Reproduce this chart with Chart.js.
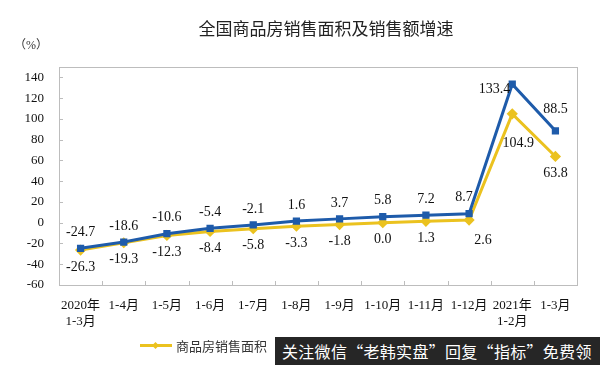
<!DOCTYPE html>
<html>
<head>
<meta charset="utf-8">
<script src="https://cdn.jsdelivr.net/npm/chart.js@4"></script>
<style>
  body { margin: 0; background: #fff; }
  #wrap { position: relative; width: 600px; height: 365px; overflow: hidden; background: #fff; }
  #c { position: absolute; left: 0; top: 0; }
  .title { position: absolute; left: 0; width: 652px; top: 15px; text-align: center;
           font: 17px "Noto Sans CJK SC", sans-serif; color: #222; }
  .unit { position: absolute; left: 14px; top: 35px; font: 12px "Liberation Serif", "Noto Sans CJK SC", serif; color: #333; }
  .legend { position: absolute; top: 336px; font: 13px "Noto Sans CJK SC", serif; color: #333; display: flex; align-items: center; }
  .legend .mk { position: relative; width: 32px; height: 3px; margin-right: 4px; }
  .legend .mk i { position: absolute; left: 13px; top: -1.5px; width: 5px; height: 5px; transform: rotate(45deg); }
  .wm { position: absolute; left: 275px; top: 337px; width: 325px; height: 28px; background: #262626;
        color: #fff; font: 16px "Noto Sans CJK SC", sans-serif; line-height: 28px; padding-left: 7px; letter-spacing: 0.3px; box-sizing: border-box; white-space: nowrap; }
</style>
</head>
<body>
<div id="wrap">
  <canvas id="c" width="600" height="365"></canvas>
  <div class="title">全国商品房销售面积及销售额增速</div>
  <div class="unit">（%）</div>
  <div class="legend" style="left:140px"><span class="mk" style="background:#EBC21F"><i style="background:#EBC21F"></i></span>商品房销售面积</div>
  <div class="legend" style="left:300px"><span class="mk" style="background:#1E5BAA"><i style="background:#1E5BAA"></i></span>商品房销售额</div>
  <div class="wm">关注微信“老韩实盘”回复“指标”免费领</div>
</div>
<script>
const categories = [['2020年', '1-3月'], '1-4月', '1-5月', '1-6月', '1-7月', '1-8月', '1-9月', '1-10月', '1-11月', '1-12月', ['2021年', '1-2月'], '1-3月'];
const salesAmount = [-24.7, -18.6, -10.6, -5.4, -2.1, 1.6, 3.7, 5.8, 7.2, 8.7, 133.4, 88.5];
const salesArea = [-26.3, -19.3, -12.3, -8.4, -5.8, -3.3, -1.8, 0.0, 1.3, 2.6, 104.9, 63.8];
const yTicks = [-60, -40, -20, 0, 20, 40, 60, 80, 100, 120, 140];

const BLUE = '#1E5BAA';
const YELLOW = '#EBC21F';

// frame + inner tick marks
const framePlugin = {
  id: 'frame',
  beforeDatasetsDraw(chart) {
    const { ctx, chartArea: a, scales } = chart;
    ctx.save();
    ctx.strokeStyle = '#bdbdbd';
    ctx.lineWidth = 1;
    ctx.strokeRect(Math.round(a.left) + 0.5, Math.round(a.top) + 0.5, Math.round(a.right - a.left), Math.round(a.bottom - a.top));
    ctx.beginPath();
    const step = (a.right - a.left) / categories.length;
    for (let i = 1; i < categories.length; i++) {
      const x = Math.round(a.left + step * i) + 0.5;
      ctx.moveTo(x, a.bottom);
      ctx.lineTo(x, a.bottom - 4);
    }
    yTicks.forEach(v => {
      const y = Math.round(scales.y.getPixelForValue(v)) + 0.5;
      ctx.moveTo(a.left, y);
      ctx.lineTo(a.left + 4, y);
    });
    ctx.stroke();
    ctx.restore();
  }
};

// data labels
const labelPlugin = {
  id: 'vals',
  afterDatasetsDraw(chart) {
    const { ctx } = chart;
    ctx.save();
    ctx.font = '14px "Liberation Serif", serif';
    ctx.fillStyle = '#111';
    ctx.textBaseline = 'middle';
    chart.data.datasets.forEach((ds, di) => {
      chart.getDatasetMeta(di).data.forEach((pt, i) => {
        let dx = 0, dy = di === 0 ? -16 : 17, align = 'center';
        if (di === 0 && i === 10) { dx = -2; dy = 5; align = 'right'; }
        if (di === 0 && i === 11) { dy = -22; }
        if (di === 0 && i === 9) { dx = -5; }
        if (di === 1 && i === 9) { dx = 14; dy = 20; }
        if (di === 1 && i === 10) { dx = 6; dy = 30; }
        ctx.textAlign = align;
        ctx.fillText(ds.data[i].toFixed(1), pt.x + dx, pt.y + dy);
      });
    });
    ctx.restore();
  }
};

new Chart(document.getElementById('c'), {
  type: 'line',
  data: {
    labels: categories,
    datasets: [
      { label: '商品房销售额', data: salesAmount, borderColor: BLUE, backgroundColor: BLUE,
        borderWidth: 3, pointStyle: 'rect', pointRadius: 3, tension: 0 },
      { label: '商品房销售面积', data: salesArea, borderColor: YELLOW, backgroundColor: YELLOW,
        borderWidth: 3, pointStyle: 'rectRot', pointRadius: 3.5, tension: 0 }
    ]
  },
  options: {
    responsive: false,
    animation: false,
    layout: { padding: { top: 67, right: 23, left: 0, bottom: 0 } },
    plugins: { legend: { display: false }, tooltip: { enabled: false } },
    scales: {
      x: {
        offset: true,
        grid: { display: false },
        border: { display: false },
        ticks: { color: '#111', font: { family: '"Liberation Serif", "Noto Sans CJK SC", serif', size: 13, lineHeight: 1.2 }, padding: 5, maxRotation: 0, autoSkip: false },
        afterFit(s) { s.height = 80; }
      },
      y: {
        min: -60, max: 150,
        grid: { display: false },
        border: { display: false },
        afterBuildTicks(s) { s.ticks = yTicks.map(v => ({ value: v })); },
        ticks: { color: '#111', font: { family: '"Liberation Serif", serif', size: 13 }, padding: 7 },
        afterFit(s) { s.width = 59; }
      }
    }
  },
  plugins: [framePlugin, labelPlugin]
});
</script>
</body>
</html>
